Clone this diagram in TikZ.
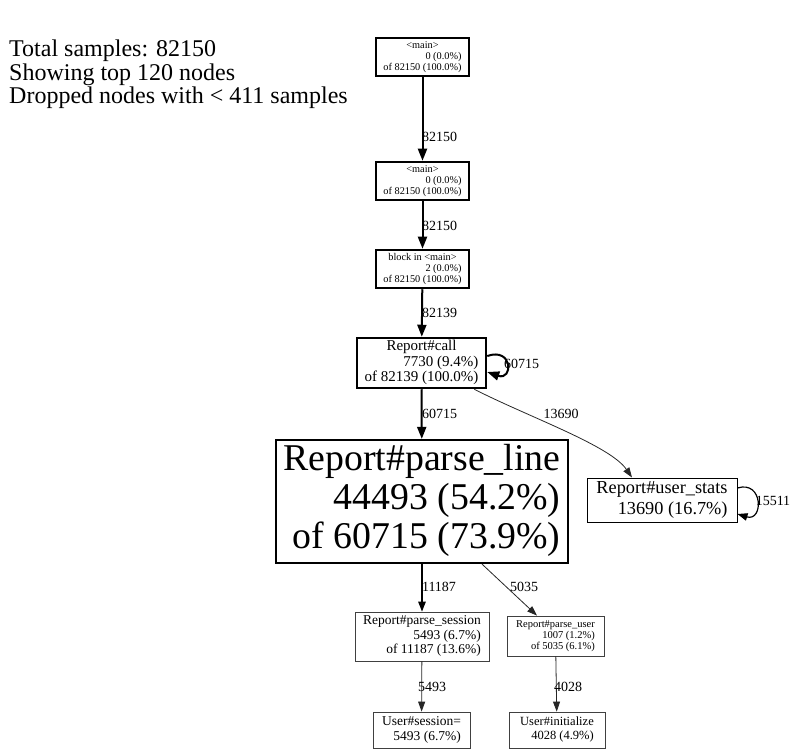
\documentclass[tikz,border=0pt]{standalone}
\usepackage{fontspec}
\setmainfont{Liberation Serif}
\usetikzlibrary{arrows.meta,calc}
\newcommand\pfont[2]{\fontsize{#1}{#2}\selectfont}
\newcommand\nlab[1]{\begin{tabular}{@{}r@{}}#1\end{tabular}}
\newcommand\ctr[1]{\multicolumn{1}{@{}c@{}}{#1}}
\begin{document}
\begin{tikzpicture}[x=1pt,y=-1pt,
    box/.style 2 args={draw,inner sep=0pt,minimum width=#1pt,minimum height=#2pt},
    heavy/.style={line width=2pt,-{Triangle[length=12pt,width=9pt]}},
    medium/.style={line width=1.2pt,-{Triangle[length=10pt,width=7.5pt]}},
    light/.style={line width=0.8pt,draw=black!85,-{Triangle[length=10pt,width=7pt]}},
    elabel/.style={font=\pfont{14}{16},inner sep=0pt}]
{
    \useasboundingbox (0,0) rectangle (793,751);
    % legend
    \node[anchor=north west,inner sep=0pt,font=\pfont{24}{23.5}] (legend) at (9,39.5)
        {\begin{tabular}{@{}l@{}}Total samples: 82150\\Showing top 120 nodes\\Dropped nodes with < 411 samples\end{tabular}};
    % nodes
    \node[box={93}{38},line width=2.5pt,font=\pfont{10.3}{11}] (main1) at (422.5,57)
        {\nlab{\ctr{<main>}\\0 (0.0\%)\\of 82150 (100.0\%)}};
    \node[box={93}{38},line width=2.5pt,font=\pfont{10.3}{11}] (main2) at (422.5,181)
        {\nlab{\ctr{<main>}\\0 (0.0\%)\\of 82150 (100.0\%)}};
    \node[box={93}{38},line width=2.5pt,font=\pfont{10.3}{11}] (block) at (422.5,269)
        {\nlab{\ctr{block in <main>}\\2 (0.0\%)\\of 82150 (100.0\%)}};
    \node[box={129}{50},line width=2.5pt,font=\pfont{15}{15.5}] (call) at (421.5,363)
        {\nlab{\ctr{Report\#call}\\7730 (9.4\%)\\of 82139 (100.0\%)}};
    \node[box={292}{123},line width=2.2pt,font=\pfont{37.8}{39}] (parse) at (422,501.5)
        {\nlab{\ctr{Report\#parse\_line}\\44493 (54.2\%)\\of 60715 (73.9\%)}};
    \node[box={150}{44},line width=1pt,font=\pfont{18.3}{20}] (stats) at (662,500)
        {\nlab{\ctr{Report\#user\_stats}\\13690 (16.7\%)}};
    \node[box={134}{49},line width=0.8pt,draw=black!75,font=\pfont{13.5}{14.5}] (psess) at (422,636.5)
        {\nlab{\ctr{Report\#parse\_session}\\5493 (6.7\%)\\of 11187 (13.6\%)}};
    \node[box={97}{40},line width=0.8pt,draw=black!75,font=\pfont{10.5}{11}] (puser) at (555.5,636)
        {\nlab{\ctr{Report\#parse\_user}\\1007 (1.2\%)\\of 5035 (6.1\%)}};
    \node[box={97}{36},line width=0.8pt,draw=black!75,font=\pfont{13.5}{14.5}] (usess) at (421.5,730)
        {\nlab{\ctr{User\#session=}\\5493 (6.7\%)}};
    \node[box={96}{36},line width=0.8pt,draw=black!75,font=\pfont{12.5}{14}] (uinit) at (557,730)
        {\nlab{\ctr{User\#initialize}\\4028 (4.9\%)}};
    % edges
    \draw[heavy] (main1) -- (main2);
    \draw[heavy] (main2) -- (block);
    \draw[heavy] (block) -- (call);
    \draw[heavy] (call) -- (parse);
    \draw[heavy] ($(call.east)+(0,-7)$) .. controls +(26,-9) and +(26,9) .. ($(call.east)+(0,9)$);
    \draw[light] ($(call.south east)+(-13,0)$) .. controls +(55,28) and +(-22,-32) .. ($(stats.north)+(-30,0)$);
    \draw[medium] ($(stats.east)+(0,-12)$) .. controls +(26,-8) and +(26,8) .. ($(stats.east)+(0,14)$);
    \draw[medium] (parse) -- (psess);
    \draw[light] ($(parse.south)+(60,0)$) -- ($(puser.north)+(-18.5,0)$);
    \draw[light] (psess) -- (usess);
    \draw[light] (puser) -- (uinit);
    % edge labels
    \node[elabel] (l1) at (439.5,137) {82150};
    \node[elabel] (l2) at (439.5,226) {82150};
    \node[elabel] (l3) at (439.5,313) {82139};
    \node[elabel] (l4) at (521.5,364) {60715};
    \node[elabel] (l5) at (439.5,414) {60715};
    \node[elabel] (l6) at (561,414) {13690};
    \node[elabel] (l7) at (773,501) {15511};
    \node[elabel] (l8) at (439,587) {11187};
    \node[elabel] (l9) at (524,587) {5035};
    \node[elabel] (l10) at (432,687) {5493};
    \node[elabel] (l11) at (568,687) {4028};
}
\end{tikzpicture}
\end{document}
